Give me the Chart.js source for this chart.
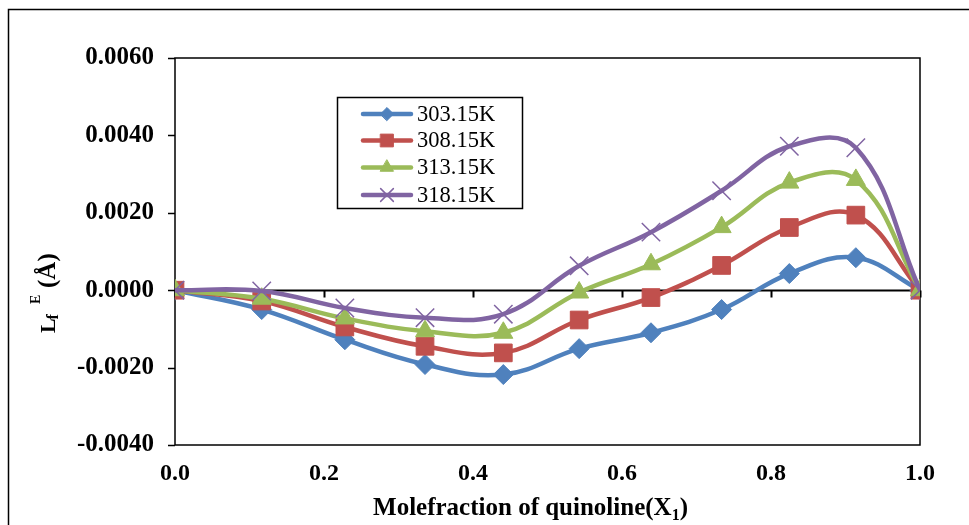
<!DOCTYPE html>
<html>
<head>
<meta charset="utf-8">
<script src="https://cdn.jsdelivr.net/npm/chart.js@4/dist/chart.umd.min.js"></script>
<style>
  html, body { margin: 0; padding: 0; background: #fff; }
  #wrap { width: 969px; height: 525px; }
</style>
</head>
<body>
<div id="wrap"><canvas id="chart" width="969" height="525"></canvas></div>
<script>
// mole fraction of quinoline (x1)
const moleFraction = [0, 0.1164, 0.2280, 0.3356, 0.4407, 0.5425, 0.6389, 0.7337, 0.8246, 0.9139, 1];

// L_f^E values at each temperature
const lf30315 = [0, -0.00050, -0.00128, -0.00192, -0.00218, -0.00151, -0.00110, -0.00050, 0.00043, 0.00084, 0];
const lf30815 = [0, -0.00028, -0.00095, -0.00145, -0.00162, -0.00077, -0.00019, 0.00064, 0.00162, 0.00194, 0];
const lf31315 = [0, -0.00022, -0.00073, -0.00106, -0.00110, -0.00006, 0.00067, 0.00163, 0.00278, 0.00285, 0];
const lf31815 = [0, -0.00002, -0.00046, -0.00071, -0.00062, 0.00063, 0.00150, 0.00257, 0.00372, 0.00368, 0];

const seriesLabels = ["303.15K", "308.15K", "313.15K", "318.15K"];
const seriesColors = ["#4F81BD", "#C0504D", "#9BBB59", "#8064A2"];
const seriesMarkers = ["rectRot", "rect", "triangle", "crossRot"];
const markerRadius = [10, 12.5, 11, 13];
const legendRadius = [6.5, 9, 7.5, 9];

const yTicks = [-0.004, -0.002, 0, 0.002, 0.004, 0.006];
const xTicks = [0, 0.2, 0.4, 0.6, 0.8, 1.0];

const serif = "'Liberation Serif', 'Times New Roman', serif";
const allSeries = [lf30315, lf30815, lf31315, lf31815];

const datasets = allSeries.map((vals, i) => ({
    label: seriesLabels[i],
    data: vals.map((v, j) => ({ x: moleFraction[j], y: v })),
    borderColor: seriesColors[i],
    backgroundColor: seriesColors[i],
    borderWidth: 4.5,
    pointStyle: seriesMarkers[i],
    pointRadius: markerRadius[i],
    pointBorderWidth: seriesMarkers[i] === "crossRot" ? 1.5 : 1,
    pointBorderColor: seriesColors[i],
    pointBackgroundColor: seriesColors[i],
    tension: 0.4,
    order: 3 - i
}));

// frame, zero line, box, titles, legend
const decor = {
    id: "decor",
    beforeDraw(chart){
        const ctx = chart.ctx;
        ctx.save();
        ctx.strokeStyle = "#000";
        ctx.lineWidth = 1.5;
        ctx.beginPath();
        ctx.moveTo(8.5, 525);
        ctx.lineTo(8.5, 9.5);
        ctx.lineTo(969, 9.5);
        ctx.stroke();
        ctx.restore();
    },
    beforeDatasetsDraw(chart){
        const ctx = chart.ctx;
        const a = chart.chartArea;
        const xs = chart.scales.x, ys = chart.scales.y;
        ctx.save();
        ctx.strokeStyle = "#000";
        ctx.lineWidth = 1.5;
        ctx.strokeRect(a.left, a.top, a.right - a.left, a.bottom - a.top);

        // horizontal axis at y = 0 with tick marks below
        const y0 = Math.round(ys.getPixelForValue(0)) + 0.5;
        ctx.lineWidth = 2;
        ctx.beginPath();
        ctx.moveTo(a.left, y0);
        ctx.lineTo(a.right, y0);
        xTicks.forEach(t => {
            const px = Math.round(xs.getPixelForValue(t)) + 0.5;
            ctx.moveTo(px, y0);
            ctx.lineTo(px, y0 + 7);
        });
        ctx.stroke();

        // y tick marks pointing out
        ctx.lineWidth = 1.5;
        ctx.beginPath();
        yTicks.forEach(t => {
            const py = Math.round(ys.getPixelForValue(t)) + 0.5;
            ctx.moveTo(a.left - 7, py);
            ctx.lineTo(a.left, py);
        });
        ctx.stroke();
        ctx.restore();
    },
    afterDraw(chart){
        const ctx = chart.ctx;
        const a = chart.chartArea;
        ctx.save();
        ctx.fillStyle = "#000";

        // x title
        const big = "bold 25px " + serif, small = "bold 16px " + serif;
        ctx.font = big;
        const p1 = "Molefraction of quinoline(X";
        const w1 = ctx.measureText(p1).width;
        const w3 = ctx.measureText(")").width;
        ctx.font = small;
        const w2 = ctx.measureText("1").width;
        const total = w1 + w2 + w3;
        let x = (a.left + a.right) / 2 - 17 - total / 2;
        const by = 515;
        ctx.textBaseline = "alphabetic";
        ctx.textAlign = "left";
        ctx.font = big;
        ctx.fillText(p1, x, by);
        x += w1;
        ctx.font = small;
        ctx.fillText("1", x, by + 5);
        x += w2;
        ctx.font = big;
        ctx.fillText(")", x, by);

        // y title, rotated
        ctx.translate(55, 333);
        ctx.rotate(-Math.PI / 2);
        ctx.font = "bold 22px " + serif;
        ctx.fillText("L", 0, 0);
        ctx.font = "bold 16px " + serif;
        ctx.fillText("f", 13.5, 3);
        ctx.font = "bold 14px " + serif;
        ctx.fillText("E", 29, -15);
        ctx.font = "bold 25px " + serif;
        ctx.fillText("(Å)", 45, 0);
        ctx.restore();

        // legend box
        ctx.save();
        const lx = 337.5, ly = 97.5, lw = 185, lh = 111;
        ctx.fillStyle = "#fff";
        ctx.fillRect(lx, ly, lw, lh);
        ctx.strokeStyle = "#000";
        ctx.lineWidth = 1.5;
        ctx.strokeRect(lx, ly, lw, lh);
        const rows = [114, 140.5, 167.5, 195];
        ctx.font = "22.5px " + serif;
        ctx.textBaseline = "middle";
        rows.forEach((ry, i) => {
            ctx.strokeStyle = seriesColors[i];
            ctx.fillStyle = seriesColors[i];
            ctx.lineWidth = 4.5;
            ctx.lineCap = "round";
            ctx.beginPath();
            ctx.moveTo(363, ry);
            ctx.lineTo(411, ry);
            ctx.stroke();
            ctx.lineWidth = seriesMarkers[i] === "crossRot" ? 1.5 : 1;
            Chart.helpers.drawPoint(ctx, {
                pointStyle: seriesMarkers[i],
                radius: legendRadius[i],
                rotation: 0,
                borderWidth: ctx.lineWidth
            }, 387, ry);
            ctx.fillStyle = "#000";
            ctx.fillText(seriesLabels[i], 417, ry + 1);
        });
        ctx.restore();
    }
};

new Chart(document.getElementById("chart"), {
    type: "line",
    data: { datasets: datasets },
    options: {
        responsive: false,
        animation: false,
        devicePixelRatio: 1,
        layout: { padding: { top: 58, right: 49, left: 0, bottom: 0 } },
        plugins: {
            legend: { display: false },
            tooltip: { enabled: false }
        },
        scales: {
            x: {
                type: "linear",
                min: 0,
                max: 1,
                afterBuildTicks: s => { s.ticks = xTicks.map(v => ({ value: v })); },
                afterFit: s => { s.height = 80; },
                grid: { display: false, drawTicks: false },
                border: { display: false },
                ticks: {
                    padding: 14,
                    color: "#000",
                    font: { family: serif, size: 24, weight: "bold" },
                    callback: v => Number(v).toFixed(1)
                }
            },
            y: {
                min: -0.004,
                max: 0.006,
                afterBuildTicks: s => { s.ticks = yTicks.map(v => ({ value: v })); },
                afterFit: s => { s.width = 175; },
                grid: { display: false, drawTicks: true, tickLength: 7 },
                border: { display: false },
                ticks: {
                    padding: 14,
                    color: "#000",
                    font: { family: serif, size: 25, weight: "bold" },
                    callback: v => Number(v).toFixed(4)
                }
            }
        }
    },
    plugins: [decor]
});
</script>
</body>
</html>
